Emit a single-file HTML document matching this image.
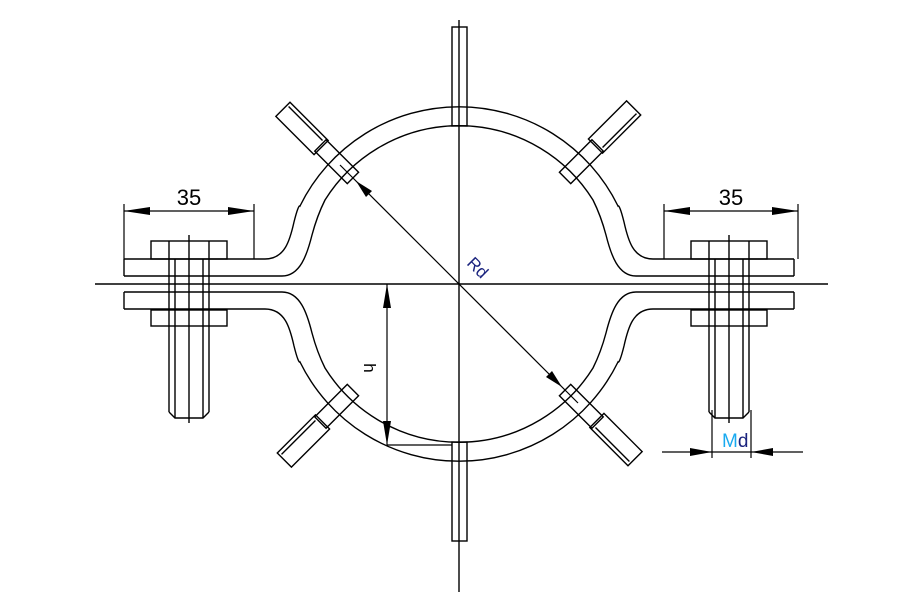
<!DOCTYPE html>
<html><head><meta charset="utf-8"><style>html,body{margin:0;padding:0;background:#fff}svg{display:block}</style></head>
<body>
<svg width="900" height="616" viewBox="0 0 900 616" xmlns="http://www.w3.org/2000/svg">
<defs>
<g id="pad" fill="none" stroke="#000" stroke-width="1.4">
  <rect x="150" y="-8" width="46" height="16"/>
  <rect x="194" y="-11" width="54" height="20"/>
  <line x1="198" y1="5" x2="246" y2="5"/>
</g>
<g id="half" fill="none" stroke="#000" stroke-width="1.4">
  <path d="M124 259 L265 259 C285 259 290 240 294 222 C297 210 299 205 300 206 A177 177 0 0 1 618 206 C619 205 621 210 624 222 C628 240 633 259 653 259 L794 259"/>
  <path d="M124 276 L282 276 C300 276 307 255 312 235 C316 220 320 210 325 200 A158 158 0 0 1 593 200 C598 210 602 220 606 235 C611 255 618 276 636 276 L794 276"/>
  <line x1="124" y1="259" x2="124" y2="276"/>
  <line x1="794" y1="259" x2="794" y2="276"/>
  <rect x="452" y="27" width="15" height="99"/>
</g>
</defs>
<line x1="95" y1="284" x2="828" y2="284" stroke="#000" stroke-width="1.4"/>
<line x1="459" y1="20" x2="459" y2="592" stroke="#000" stroke-width="1.4"/>
<use href="#half"/>
<use href="#half" transform="translate(0,568) scale(1,-1)"/>
<g transform="translate(459,284)">
<use href="#pad" transform="rotate(-135)"/>
<use href="#pad" transform="rotate(-45)"/>
<use href="#pad" transform="rotate(45)"/>
<use href="#pad" transform="rotate(135)"/>
</g>
<g fill="none" stroke="#000" stroke-width="1.4">
  <rect x="151" y="241" width="76" height="18"/>
  <rect x="151" y="310" width="76" height="16"/>
  <line x1="169" y1="241" x2="169" y2="412"/><line x1="209" y1="241" x2="209" y2="412"/>
  <line x1="175" y1="259" x2="175" y2="418"/><line x1="203" y1="259" x2="203" y2="418"/>
  <path d="M169 412 L175 418 L203 418 L209 412"/>
  <line x1="189" y1="235" x2="189" y2="423"/>
  <rect x="691" y="241" width="76" height="18"/>
  <rect x="691" y="310" width="76" height="16"/>
  <line x1="709" y1="241" x2="709" y2="412"/><line x1="749" y1="241" x2="749" y2="412"/>
  <line x1="715" y1="259" x2="715" y2="418"/><line x1="743" y1="259" x2="743" y2="418"/>
  <path d="M709 412 L715 418 L743 418 L749 412"/>
  <line x1="729" y1="235" x2="729" y2="423"/>
</g>
<g stroke="#000" stroke-width="1.2" fill="none">
  <line x1="124" y1="204" x2="124" y2="259"/><line x1="254" y1="204" x2="254" y2="259"/>
  <line x1="124" y1="211" x2="254" y2="211"/>
  <line x1="664" y1="204" x2="664" y2="259"/><line x1="798" y1="204" x2="798" y2="259"/>
  <line x1="664" y1="211" x2="798" y2="211"/>
  <line x1="712" y1="410" x2="712" y2="458"/><line x1="751" y1="410" x2="751" y2="458"/>
  <line x1="662" y1="452" x2="803" y2="452"/>
  <line x1="387" y1="284" x2="387" y2="445"/>
  <line x1="387" y1="445" x2="452" y2="445"/>
  <line x1="340" y1="165" x2="578" y2="403"/>
</g>
<g fill="#000">
  <polygon points="124,211 150,207 150,215"/><polygon points="254,211 228,207 228,215"/>
  <polygon points="664,211 690,207 690,215"/><polygon points="798,211 772,207 772,215"/>
  <polygon points="712,452 690,448 690,456"/><polygon points="751,452 773,448 773,456"/>
  <polygon points="387,284 383,308 391,308"/><polygon points="387,445 383,421 391,421"/>
  <polygon points="356,181 366,197 372,191"/><polygon points="562,387 546,377 552,371"/>
</g>
<g font-family="Liberation Sans, sans-serif">
  <text x="189" y="205" font-size="22" text-anchor="middle">35</text>
  <text x="731" y="205" font-size="22" text-anchor="middle">35</text>
  <text x="722" y="447" font-size="19"><tspan fill="#19aaf0">M</tspan><tspan fill="#1a237e">d</tspan></text>
  <text transform="translate(466,264) rotate(45)" font-size="17" fill="#1a237e">Rd</text>
  <text transform="translate(364,368) rotate(90)" font-size="17" text-anchor="middle">h</text>
</g>
</svg>
</body></html>
